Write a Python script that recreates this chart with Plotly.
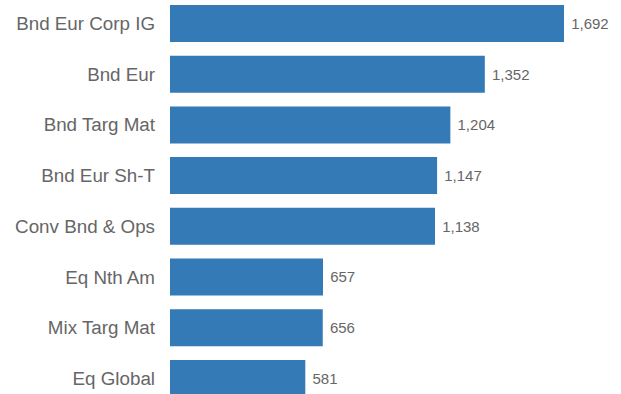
import plotly.graph_objects as go

categories = ["Bnd Eur Corp IG", "Bnd Eur", "Bnd Targ Mat", "Bnd Eur Sh-T",
              "Conv Bnd & Ops", "Eq Nth Am", "Mix Targ Mat", "Eq Global"]
values = [1692, 1352, 1204, 1147, 1138, 657, 656, 581]
value_labels = ["\u00a0" + f"{v:,}" for v in values]

fig = go.Figure(go.Bar(
    x=values, y=categories, orientation="h",
    marker=dict(color="#337ab7", line=dict(width=0)),
    text=value_labels, textposition="outside", cliponaxis=False,
    textfont=dict(family="Liberation Sans, Arial", size=15, color="#666666"),
    hoverinfo="skip",
))

fig.update_layout(
    width=621, height=394,
    margin=dict(l=170, r=0, t=0, b=0),
    paper_bgcolor="white", plot_bgcolor="white",
    bargap=0.27,
    showlegend=False,
    font=dict(family="Liberation Sans, Arial", color="#666666"),
)
fig.update_xaxes(range=[0, 1936.8], visible=False, showgrid=False, zeroline=False)
fig.update_yaxes(categoryorder="array", categoryarray=categories,
                 range=[7.308, -0.4635], showgrid=False, zeroline=False,
                 showline=False, ticks="", ticklabelstandoff=14,
                 tickfont=dict(family="Liberation Sans, Arial", size=18.8, color="#666666"))

fig.write_html("out.html")
